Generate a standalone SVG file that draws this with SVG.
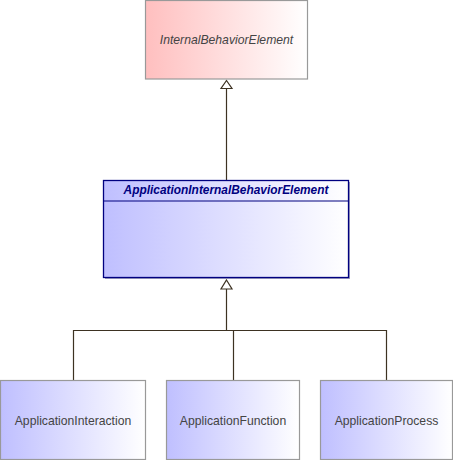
<svg xmlns="http://www.w3.org/2000/svg" width="453" height="460" viewBox="0 0 453 460">
<defs>
<linearGradient id="gRed" x1="0" y1="0" x2="1" y2="0">
<stop offset="0" stop-color="#ffbfbf"/><stop offset="1" stop-color="#ffffff"/>
</linearGradient>
<linearGradient id="gBlue" x1="0" y1="0" x2="1" y2="0">
<stop offset="0" stop-color="#bfbfff"/><stop offset="1" stop-color="#ffffff"/>
</linearGradient>
</defs>
<style>
.box{stroke:#999999;stroke-width:1.2}
.lbl{font-family:"Liberation Sans",Arial,sans-serif;font-size:12.2px;fill:#444444;text-anchor:middle}
.con{stroke:#3d3222;stroke-width:1.2;fill:none}
.arr{stroke:#3d3222;stroke-width:1.2;fill:#ffffff}
</style>
<rect width="453" height="460" fill="#ffffff"/>
<g id="connectors">
<line class="con" x1="226.5" y1="88" x2="226.5" y2="180"/>
<path class="arr" d="M226.5,80.5 L232,88.5 L221,88.5 Z"/>
<path class="con" d="M226.5,289 V330.5 M73.5,380 V330.5 H386.5 V380 M233.5,330.5 V380"/>
<path class="arr" d="M226.5,280 L232,289 L221,289 Z"/>
</g>
<g id="InternalBehaviorElement">
<rect class="box" x="145.5" y="0.5" width="162" height="78.5" fill="url(#gRed)"/>
<text class="lbl" x="226.5" y="44" font-style="italic" font-size="11.9px">InternalBehaviorElement</text>
</g>
<g id="ApplicationInternalBehaviorElement">
<rect x="105" y="182" width="245" height="97" fill="#a0a0c0"/>
<rect x="103.5" y="180.5" width="245" height="97" fill="url(#gBlue)" stroke="#000080" stroke-width="1.3"/>
<line x1="103.5" y1="201" x2="348.5" y2="201" stroke="#000080" stroke-width="1.2"/>
<text x="226" y="193.5" font-family="Liberation Sans,Arial,sans-serif" font-size="11.9px" font-weight="bold" font-style="italic" fill="#000080" text-anchor="middle">ApplicationInternalBehaviorElement</text>
</g>
<g id="ApplicationInteraction">
<rect class="box" x="0.5" y="380.5" width="145" height="79" fill="url(#gBlue)"/>
<text class="lbl" x="73" y="424.5">ApplicationInteraction</text>
</g>
<g id="ApplicationFunction">
<rect class="box" x="166.5" y="380.5" width="133" height="79" fill="url(#gBlue)"/>
<text class="lbl" x="233" y="424.5">ApplicationFunction</text>
</g>
<g id="ApplicationProcess">
<rect class="box" x="320.5" y="380.5" width="132" height="79" fill="url(#gBlue)"/>
<text class="lbl" x="386.5" y="424.5">ApplicationProcess</text>
</g>
</svg>
